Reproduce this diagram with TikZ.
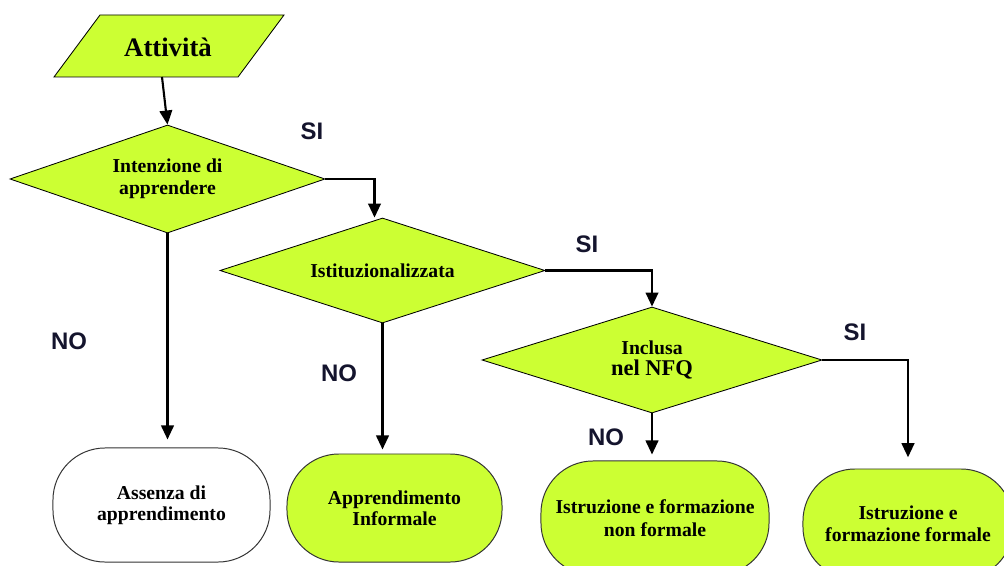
\documentclass[tikz,border=0pt]{standalone}
\usepackage{fontspec}
\setmainfont{Liberation Serif}
\setsansfont{Liberation Sans}
\usetikzlibrary{shapes.geometric,arrows.meta,calc}
\definecolor{lime}{RGB}{204,255,51}
\definecolor{lblcol}{RGB}{20,20,45}
\begin{document}
\begin{tikzpicture}[x=0.025cm,y=-0.025cm,
  dec/.style={diamond, aspect=3, draw=black, line width=0.6pt, fill=lime, inner sep=0pt, align=center,
    font=\bfseries\fontsize{14}{15.5}\selectfont},
  term/.style={rectangle, rounded corners=1.3cm, draw=black!80, line width=0.7pt, inner sep=0pt,
    align=center, fill=lime, font=\bfseries\fontsize{14}{15}\selectfont},
  conn/.style={line width=1.5pt, -{Triangle[width=9pt,length=10pt]}},
  lbl/.style={font=\sffamily\bfseries\fontsize{17}{17}\selectfont, text=lblcol}]
\fill[white] (0,0) rectangle (1004,565);
\clip (0,0) rectangle (1004,565);
% start
\draw[fill=lime, line width=0.6pt] (54,77) -- (100,15) -- (284,15) -- (238,77) -- cycle;
\node[font=\bfseries\fontsize{19}{20}\selectfont] (att) at (168,47) {Attività};
\coordinate (attb) at (162,77);
% decisions
\node[dec, minimum width=7.875cm, minimum height=2.7cm] (d1) at (167.5,179) {Intenzione di\\apprendere};
\node[dec, minimum width=8.125cm, minimum height=2.625cm] (d2) at (382.5,270.5) {Istituzionalizzata};
\node[dec, minimum width=8.5cm, minimum height=2.65cm] (d3) at (652,360) {Inclusa\\{\fontsize{16}{17}\selectfont nel NFQ}};
% terminals
\node[term, fill=white, minimum width=5.425cm, minimum height=2.85cm] (b1) at (161.5,505) {Assenza di\\apprendimento};
\node[term, minimum width=5.375cm, minimum height=2.7cm] (b2) at (394.5,508) {Apprendimento\\Informale};
\node[term, minimum width=5.7cm, minimum height=2.85cm, font=\bfseries\fontsize{14}{16}\selectfont] (b3) at (655,518) {Istruzione e formazione\\non formale};
\node[term, minimum width=5.25cm, minimum height=2.75cm, font=\bfseries\fontsize{14}{16}\selectfont] (b4) at (908,524) {Istruzione e\\formazione formale};
% connectors
\draw[conn] (attb) -- (d1.north);
\draw[conn] (d1.east) -| ($(d2.north)+(-8,0)$);
\draw[conn, shorten >=0.2cm] (d1.south) -- (d1.south |- b1.north);
\draw[conn, shorten >=0.1cm] (d2.south) -- (d2.south |- b2.north);
\draw[conn] (d2.east) -| (d3.north);
\draw[conn, shorten >=0.15cm] (d3.south) -- (d3.south |- b3.north);
\draw[conn, shorten >=0.28cm] (d3.east) -| (b4.north);
% labels
\node[lbl] (si1) at (312,131) {SI};
\node[lbl] (si2) at (587,244) {SI};
\node[lbl] (si3) at (855,332) {SI};
\node[lbl] (no1) at (69,341) {NO};
\node[lbl] (no2) at (339,373) {NO};
\node[lbl] (no3) at (606,437) {NO};
\end{tikzpicture}
\end{document}
